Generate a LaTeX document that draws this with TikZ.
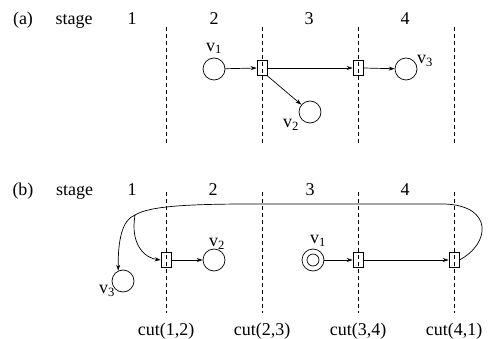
\documentclass[tikz,border=0pt]{standalone}
\usepackage{fontspec}
\setmainfont{Liberation Serif}
\usetikzlibrary{arrows.meta}
\begin{document}
\begin{tikzpicture}[x=1pt,y=-1pt,
  txt/.style={font=\fontsize{18}{20}\selectfont, inner sep=0pt, anchor=base},
  vlbl/.style={font=\fontsize{18}{20}\selectfont, inner sep=0pt},
  place/.style={draw, circle, minimum size=22pt, inner sep=0pt, line width=0.7pt},
  trans/.style={draw, rectangle, minimum width=10pt, minimum height=15pt, inner sep=0pt, line width=0.7pt},
  cutline/.style={dash pattern=on 4pt off 3pt, line width=0.7pt},
  arc/.style={-{Stealth[length=6pt,width=4pt]}, line width=0.7pt},
  plain/.style={line width=0.7pt}]
\useasboundingbox (0,0) rectangle (492,339);

% ---------- (a) ----------
\node[txt] (la) at (23,24.5) {(a)};
\node[txt] (sa) at (74,24.5) {stage};
\node[txt] (sa1) at (132,24.5) {1};
\node[txt] (sa2) at (214,24.5) {2};
\node[txt] (sa3) at (309,24.5) {3};
\node[txt] (sa4) at (405,24.5) {4};

\foreach \x/\n in {166/a1,262/a2,358/a3,454/a4}{
  \coordinate (ct\n) at (\x,27);
  \coordinate (cb\n) at (\x,145);
  \draw[cutline] (ct\n) -- (cb\n);
}

\node[place] (v1a) at (214,69) {};
\node[place] (v2a) at (310,112) {};
\node[place] (v3a) at (406,69) {};
\node[trans] (t1a) at (262,68) {};
\node[trans] (t2a) at (358,68) {};

\node[vlbl] (lv1a) at (214,48.5) {v\textsubscript{1}};
\node[vlbl] (lv2a) at (291,125) {v\textsubscript{2}};
\node[vlbl] (lv3a) at (425,61) {v\textsubscript{3}};

\draw[arc] (v1a) -- (t1a.west);
\draw[arc] (t1a.east) -- (t2a.west);
\draw[arc] (t2a.east) -- (v3a);
\draw[arc] (t1a.south east) -- (v2a);

% ---------- (b) ----------
\node[txt] (lb) at (23,195) {(b)};
\node[txt] (sb) at (74.5,195) {stage};
\node[txt] (sb1) at (132,195) {1};
\node[txt] (sb2) at (213,195) {2};
\node[txt] (sb3) at (310,195) {3};
\node[txt] (sb4) at (405,195) {4};

\foreach \x/\n in {166/b1,262/b2,358/b3,454/b4}{
  \coordinate (ct\n) at (\x,192);
  \coordinate (cb\n) at (\x,313);
  \draw[cutline] (ct\n) -- (cb\n);
}

\node[txt] (c12) at (166,335.5) {cut(1,2)};
\node[txt] (c23) at (262,335.5) {cut(2,3)};
\node[txt] (c34) at (358,335.5) {cut(3,4)};
\node[txt] (c41) at (454,335.5) {cut(4,1)};

\node[place] (v1b) at (313,260) {};
\draw[plain] (v1b.center) circle (6pt);
\node[place] (v2b) at (214,260) {};
\node[place] (v3b) at (123,281) {};
\node[trans] (t1b) at (166,260) {};
\node[trans] (t2b) at (358,260) {};
\node[trans] (t3b) at (454,260) {};

\node[vlbl] (lv1b) at (318,241) {v\textsubscript{1}};
\node[vlbl] (lv2b) at (217,244) {v\textsubscript{2}};
\node[vlbl] (lv3b) at (107,291) {v\textsubscript{3}};

\draw[arc] (v1b) -- (t2b.west);
\draw[arc] (t2b.east) -- (t3b.west);
\draw[arc] (t1b.east) -- (v2b);

\coordinate (j) at (135,215);
\draw[plain] (t3b.east) .. controls (490,244) and (494,206) .. (445,204)
  -- (250,204) .. controls (180,204) and (148,207) .. (j);
\draw[arc] (j) .. controls (122,220) and (118,240) .. (v3b.115);
\draw[arc] (j) .. controls (130,245) and (145,258) .. (t1b.west);
\end{tikzpicture}
\end{document}
